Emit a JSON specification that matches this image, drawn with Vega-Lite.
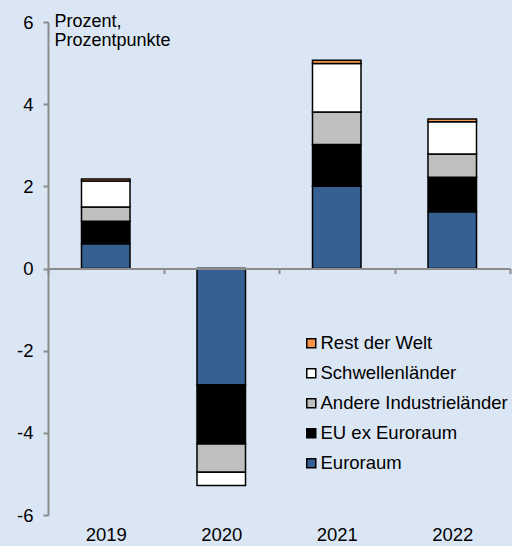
{
  "$schema": "https://vega.github.io/schema/vega-lite/v6.json",
  "autosize": {"type": "none"},
  "padding": {"left": 48, "top": 22, "right": 2, "bottom": 31},
  "width": 462,
  "height": 493,
  "background": "#dbe6f5",
  "config": {
    "view": {"stroke": null},
    "font": "Liberation Sans"
  },
  "data": {
    "values": [
      {"jahr": "2019", "region": "Euroraum", "k": 1, "wert": 0.60},
      {"jahr": "2019", "region": "EU ex Euroraum", "k": 2, "wert": 0.55},
      {"jahr": "2019", "region": "Andere Industrieländer", "k": 3, "wert": 0.35},
      {"jahr": "2019", "region": "Schwellenländer", "k": 4, "wert": 0.63},
      {"jahr": "2019", "region": "Rest der Welt", "k": 5, "wert": 0.05},
      {"jahr": "2020", "region": "Euroraum", "k": 1, "wert": -2.83},
      {"jahr": "2020", "region": "EU ex Euroraum", "k": 2, "wert": -1.44},
      {"jahr": "2020", "region": "Andere Industrieländer", "k": 3, "wert": -0.69},
      {"jahr": "2020", "region": "Schwellenländer", "k": 4, "wert": -0.32},
      {"jahr": "2020", "region": "Rest der Welt", "k": 5, "wert": 0.0},
      {"jahr": "2021", "region": "Euroraum", "k": 1, "wert": 2.00},
      {"jahr": "2021", "region": "EU ex Euroraum", "k": 2, "wert": 1.02},
      {"jahr": "2021", "region": "Andere Industrieländer", "k": 3, "wert": 0.79},
      {"jahr": "2021", "region": "Schwellenländer", "k": 4, "wert": 1.18},
      {"jahr": "2021", "region": "Rest der Welt", "k": 5, "wert": 0.08},
      {"jahr": "2022", "region": "Euroraum", "k": 1, "wert": 1.38},
      {"jahr": "2022", "region": "EU ex Euroraum", "k": 2, "wert": 0.84},
      {"jahr": "2022", "region": "Andere Industrieländer", "k": 3, "wert": 0.57},
      {"jahr": "2022", "region": "Schwellenländer", "k": 4, "wert": 0.78},
      {"jahr": "2022", "region": "Rest der Welt", "k": 5, "wert": 0.07}
    ]
  },
  "mark": {"type": "bar", "stroke": "black", "strokeWidth": 1.5, "width": {"band": 0.42}},
  "encoding": {
    "x": {
      "field": "jahr", "type": "nominal",
      "scale": {"paddingInner": 0, "paddingOuter": 0},
      "axis": {
        "title": null, "labelAngle": 0, "offset": -246.5, "zindex": 1,
        "domainColor": "#8c8c8c", "domainWidth": 2,
        "tickColor": "#8c8c8c", "tickWidth": 2, "tickSize": 5, "tickBand": "extent",
        "labelPadding": 252, "labelFontSize": 18.5, "labelColor": "black", "labelFont": "Liberation Sans"
      }
    },
    "y": {
      "field": "wert", "type": "quantitative", "stack": "zero",
      "scale": {"domain": [-6, 6], "nice": false},
      "axis": {
        "values": [-6, -4, -2, 0, 2, 4, 6], "grid": false, "zindex": 1,
        "labelExpr": "datum.value < 0 ? '-' + abs(datum.value) : '' + datum.value",
        "domainColor": "#8c8c8c", "domainWidth": 2,
        "tickColor": "#8c8c8c", "tickWidth": 2, "tickSize": 5,
        "labelPadding": 10, "labelFontSize": 18.5, "labelColor": "black", "labelFont": "Liberation Sans",
        "title": ["Prozent,", "Prozentpunkte"], "titleAngle": 0, "titleX": 6, "titleY": 4,
        "titleAlign": "left", "titleBaseline": "alphabetic", "titleFontSize": 18,
        "titleFontWeight": "normal", "titleColor": "black", "titleLineHeight": 19.7, "titleFont": "Liberation Sans"
      }
    },
    "color": {
      "field": "region", "type": "nominal",
      "scale": {
        "domain": ["Rest der Welt", "Schwellenländer", "Andere Industrieländer", "EU ex Euroraum", "Euroraum"],
        "range": ["#f79646", "#ffffff", "#bfbfbf", "#000000", "#376092"]
      },
      "legend": {
        "title": null, "orient": "none", "legendX": 254, "legendY": 312, "padding": 0,
        "symbolType": "square", "symbolSize": 81, "symbolStrokeColor": "black", "symbolStrokeWidth": 1.5,
        "labelFontSize": 18.5, "labelColor": "black", "labelFont": "Liberation Sans", "labelOffset": 0,
        "rowPadding": 11, "labelLimit": 300
      }
    },
    "order": {"field": "k", "type": "quantitative", "sort": "ascending"}
  }
}
